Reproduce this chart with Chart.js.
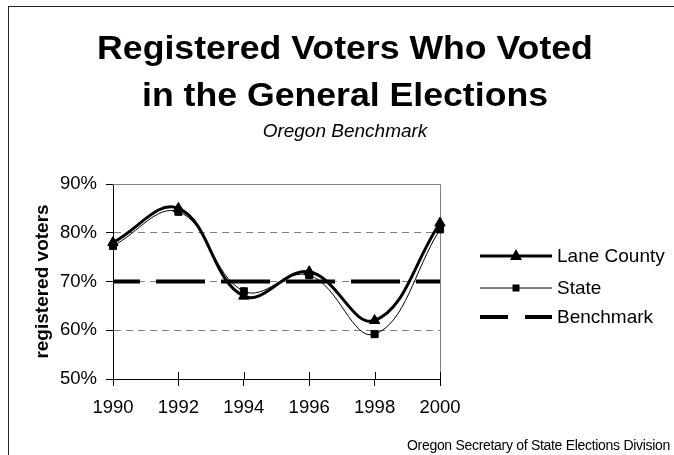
<!DOCTYPE html>
<html>
<head>
<meta charset="utf-8">
<script src="https://cdn.jsdelivr.net/npm/chart.js@4/dist/chart.umd.min.js"></script>
<style>
  html, body { margin: 0; padding: 0; background: #fff; }
  #wrap { position: relative; width: 674px; height: 455px; overflow: hidden; font-family: "Liberation Sans", Arial, sans-serif; color: #000; }
  #frame { position: absolute; left: 8px; top: 6px; width: 700px; height: 500px; border-left: 1px solid #222; border-top: 1px solid #222; }
  canvas { position: absolute; left: 0; top: 0; }
  .t { position: absolute; white-space: nowrap; line-height: 1; }
  .title { font-weight: bold; font-size: 33px; left: 0; width: 690px; text-align: center; transform: scaleX(1.08); transform-origin: 345px 0; }
  .sub { font-style: italic; font-size: 19px; left: 0; width: 690px; text-align: center; }
  .src { font-size: 14px; letter-spacing: -0.3px; right: 4px; }
  .leg { position: absolute; left: 478px; font-size: 19px; }
  .leg .row { position: absolute; left: 0; height: 20px; white-space: nowrap; }
  .leg svg { position: absolute; left: 0; top: 0; }
  .leg span { position: absolute; left: 79px; top: 0; line-height: 20px; }
</style>
</head>
<body>
<div id="wrap">
  <div id="frame"></div>
  <canvas id="c" width="674" height="455"></canvas>
  <div class="t title" style="top:31px">Registered Voters Who Voted</div>
  <div class="t title" style="top:78px">in the General Elections</div>
  <div class="t sub" style="top:121px">Oregon Benchmark</div>
  <div class="leg">
    <div class="row" style="top:246px">
      <svg width="78" height="20"><line x1="2" y1="10" x2="74" y2="10" stroke="#000" stroke-width="3"/><polygon points="38,3 44,14 32,14" fill="#000"/></svg>
      <span>Lane County</span>
    </div>
    <div class="row" style="top:278px">
      <svg width="78" height="20"><line x1="2" y1="10" x2="74" y2="10" stroke="#000" stroke-width="1"/><rect x="34.5" y="6.5" width="7" height="7" fill="#000"/></svg>
      <span>State</span>
    </div>
    <div class="row" style="top:307px">
      <svg width="78" height="20"><line x1="2" y1="10" x2="30" y2="10" stroke="#000" stroke-width="4"/><line x1="47" y1="10" x2="74" y2="10" stroke="#000" stroke-width="4"/></svg>
      <span>Benchmark</span>
    </div>
  </div>
  <div class="t src" style="top:438px">Oregon Secretary of State Elections Division</div>
</div>
<script>
// ---- data ----
const years = ['1990', '1992', '1994', '1996', '1998', '2000'];
const laneCounty = [78, 85, 67, 72, 62, 82];
const stateValues = [77.3, 84.3, 68, 71.3, 59.2, 80.7];
const benchmarkValues = [70, 70, 70, 70, 70, 70];
const yMin = 50, yMax = 90, yStep = 10;
const seriesNames = ['Lane County', 'State', 'Benchmark'];
const yTitle = 'registered voters';

const FONT = '"Liberation Sans", Arial, sans-serif';

const extras = {
  id: 'extras',
  beforeDatasetsDraw(chart) {
    const { ctx, chartArea: a } = chart;
    ctx.save();
    ctx.strokeStyle = '#808080';
    ctx.lineWidth = 1;
    ctx.setLineDash([]);
    ctx.beginPath();
    ctx.moveTo(a.left, a.top + 0.5);
    ctx.lineTo(a.right + 0.5, a.top + 0.5);
    ctx.lineTo(a.right + 0.5, a.bottom);
    ctx.stroke();
    // x ticks crossing the axis (upper half)
    const xs = chart.scales.x;
    ctx.strokeStyle = '#000';
    ctx.beginPath();
    for (let i = 0; i < xs.ticks.length; i++) {
      const x = Math.round(xs.getPixelForTick(i)) + 0.5;
      ctx.moveTo(x, a.bottom - 7);
      ctx.lineTo(x, a.bottom);
    }
    ctx.stroke();
    ctx.restore();
  }
};

new Chart(document.getElementById('c'), {
  type: 'line',
  data: {
    labels: years,
    datasets: [
      {
        label: seriesNames[0], data: laneCounty,
        borderColor: '#000', backgroundColor: '#000', borderWidth: 3,
        pointStyle: 'triangle', pointRadius: 6, pointBorderWidth: 1,
        pointBackgroundColor: '#000', pointBorderColor: '#000',
        tension: 0.4, clip: false, order: 1
      },
      {
        label: seriesNames[1], data: stateValues,
        borderColor: '#000', backgroundColor: '#000', borderWidth: 1,
        pointStyle: 'rect', pointRadius: 5, pointBorderWidth: 1,
        pointBackgroundColor: '#000', pointBorderColor: '#000',
        tension: 0.4, clip: false, order: 2
      },
      {
        label: seriesNames[2], data: benchmarkValues,
        borderColor: '#000', borderWidth: 4,
        borderDash: [49, 16], borderDashOffset: 22,
        pointRadius: 0, tension: 0, order: 3
      }
    ]
  },
  options: {
    responsive: false,
    animation: false,
    devicePixelRatio: 1,
    layout: { padding: { left: 0, right: 234, top: 184, bottom: 0 } },
    plugins: { legend: { display: false }, title: { display: false }, tooltip: { enabled: false } },
    scales: {
      x: {
        afterFit(s) { s.height = 76; },
        grid: { drawOnChartArea: false, drawTicks: true, tickLength: 7, tickColor: '#000', color: '#000' },
        border: { display: true, color: '#000', width: 1 },
        ticks: { color: '#000', font: { family: FONT, size: 18.5 }, padding: 11, maxRotation: 0, autoSkip: false }
      },
      y: {
        min: yMin, max: yMax,
        afterFit(s) { s.width = 113; },
        grid: {
          drawTicks: true, tickLength: 7, tickColor: '#000', tickBorderDash: [],
          color: (c) => (c.tick && (c.tick.value === yMin || c.tick.value === yMax)) ? 'rgba(0,0,0,0)' : '#808080',
          lineWidth: 1
        },
        border: { display: true, color: '#000', width: 1, dash: [7, 5] },
        ticks: {
          stepSize: yStep, color: '#000', padding: 9,
          font: { family: FONT, size: 18.5 },
          callback: (v) => v + '%'
        },
        title: {
          display: true, text: yTitle, color: '#000',
          font: { family: FONT, size: 19, weight: 'bold' },
          padding: { top: 31, bottom: 0 }
        }
      }
    }
  },
  plugins: [extras]
});
</script>
</body>
</html>
